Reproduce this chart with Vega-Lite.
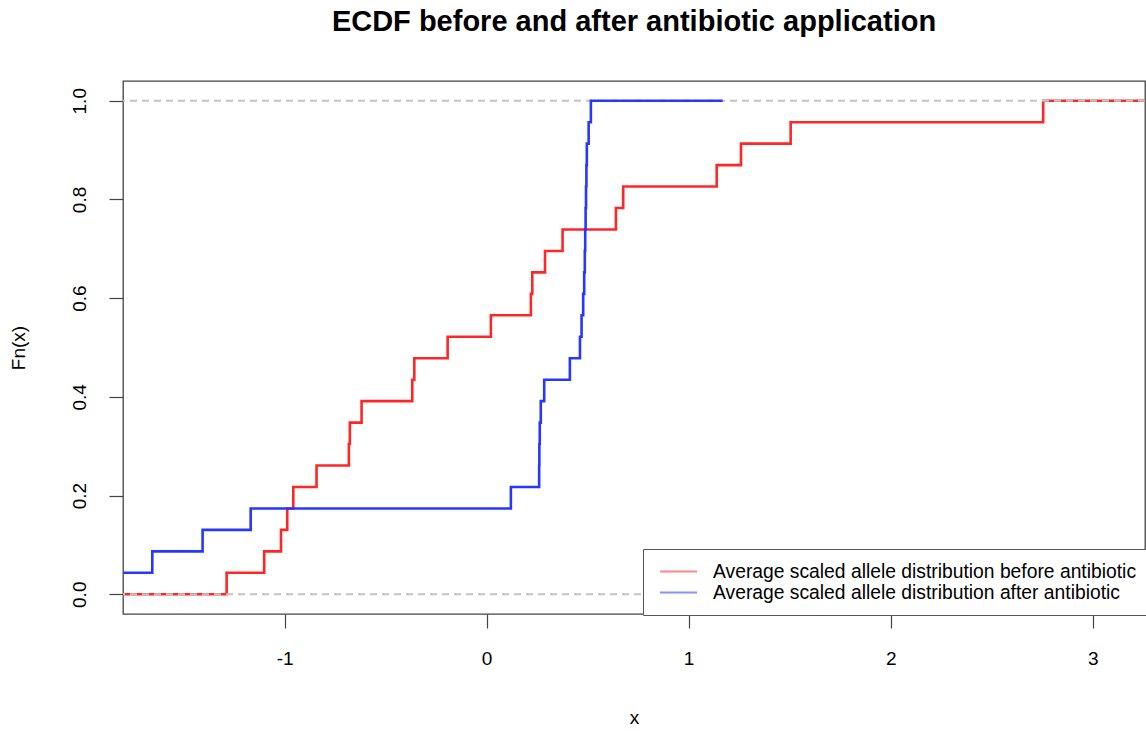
{
  "$schema": "https://vega.github.io/schema/vega-lite/v6.json",
  "width": 1022,
  "height": 533,
  "autosize": {"type": "none"},
  "padding": {"left": 123, "top": 81, "right": 1, "bottom": 117},
  "background": "white",
  "title": {
    "text": "ECDF before and after antibiotic application",
    "fontSize": 29,
    "fontWeight": "bold",
    "font": "Liberation Sans",
    "color": "black",
    "anchor": "middle",
    "offset": 44
  },
  "datasets": {
    "ecdf": [
      {"series": "Average scaled allele distribution before antibiotic", "x": -1.934, "Fn": 0},
      {"series": "Average scaled allele distribution before antibiotic", "x": -1.287, "Fn": 0.04348},
      {"series": "Average scaled allele distribution before antibiotic", "x": -1.101, "Fn": 0.08696},
      {"series": "Average scaled allele distribution before antibiotic", "x": -1.018, "Fn": 0.13043},
      {"series": "Average scaled allele distribution before antibiotic", "x": -0.987, "Fn": 0.17391},
      {"series": "Average scaled allele distribution before antibiotic", "x": -0.957, "Fn": 0.21739},
      {"series": "Average scaled allele distribution before antibiotic", "x": -0.842, "Fn": 0.26087},
      {"series": "Average scaled allele distribution before antibiotic", "x": -0.682, "Fn": 0.30435},
      {"series": "Average scaled allele distribution before antibiotic", "x": -0.677, "Fn": 0.34783},
      {"series": "Average scaled allele distribution before antibiotic", "x": -0.619, "Fn": 0.3913},
      {"series": "Average scaled allele distribution before antibiotic", "x": -0.368, "Fn": 0.43478},
      {"series": "Average scaled allele distribution before antibiotic", "x": -0.358, "Fn": 0.47826},
      {"series": "Average scaled allele distribution before antibiotic", "x": -0.193, "Fn": 0.52174},
      {"series": "Average scaled allele distribution before antibiotic", "x": 0.021, "Fn": 0.56522},
      {"series": "Average scaled allele distribution before antibiotic", "x": 0.219, "Fn": 0.6087},
      {"series": "Average scaled allele distribution before antibiotic", "x": 0.226, "Fn": 0.65217},
      {"series": "Average scaled allele distribution before antibiotic", "x": 0.289, "Fn": 0.69565},
      {"series": "Average scaled allele distribution before antibiotic", "x": 0.376, "Fn": 0.73913},
      {"series": "Average scaled allele distribution before antibiotic", "x": 0.64, "Fn": 0.78261},
      {"series": "Average scaled allele distribution before antibiotic", "x": 0.676, "Fn": 0.82609},
      {"series": "Average scaled allele distribution before antibiotic", "x": 1.139, "Fn": 0.86957},
      {"series": "Average scaled allele distribution before antibiotic", "x": 1.259, "Fn": 0.91304},
      {"series": "Average scaled allele distribution before antibiotic", "x": 1.505, "Fn": 0.95652},
      {"series": "Average scaled allele distribution before antibiotic", "x": 2.755, "Fn": 1},
      {"series": "Average scaled allele distribution before antibiotic", "x": 3.4, "Fn": 1},
      {"series": "Average scaled allele distribution after antibiotic", "x": -4.18, "Fn": 0},
      {"series": "Average scaled allele distribution after antibiotic", "x": -3.53, "Fn": 0.04348},
      {"series": "Average scaled allele distribution after antibiotic", "x": -1.655, "Fn": 0.08696},
      {"series": "Average scaled allele distribution after antibiotic", "x": -1.406, "Fn": 0.13043},
      {"series": "Average scaled allele distribution after antibiotic", "x": -1.168, "Fn": 0.17391},
      {"series": "Average scaled allele distribution after antibiotic", "x": 0.12, "Fn": 0.21739},
      {"series": "Average scaled allele distribution after antibiotic", "x": 0.26, "Fn": 0.26087},
      {"series": "Average scaled allele distribution after antibiotic", "x": 0.261, "Fn": 0.30435},
      {"series": "Average scaled allele distribution after antibiotic", "x": 0.263, "Fn": 0.34783},
      {"series": "Average scaled allele distribution after antibiotic", "x": 0.268, "Fn": 0.3913},
      {"series": "Average scaled allele distribution after antibiotic", "x": 0.285, "Fn": 0.43478},
      {"series": "Average scaled allele distribution after antibiotic", "x": 0.412, "Fn": 0.47826},
      {"series": "Average scaled allele distribution after antibiotic", "x": 0.462, "Fn": 0.52174},
      {"series": "Average scaled allele distribution after antibiotic", "x": 0.47, "Fn": 0.56522},
      {"series": "Average scaled allele distribution after antibiotic", "x": 0.478, "Fn": 0.6087},
      {"series": "Average scaled allele distribution after antibiotic", "x": 0.483, "Fn": 0.65217},
      {"series": "Average scaled allele distribution after antibiotic", "x": 0.486, "Fn": 0.69565},
      {"series": "Average scaled allele distribution after antibiotic", "x": 0.488, "Fn": 0.73913},
      {"series": "Average scaled allele distribution after antibiotic", "x": 0.49, "Fn": 0.78261},
      {"series": "Average scaled allele distribution after antibiotic", "x": 0.492, "Fn": 0.82609},
      {"series": "Average scaled allele distribution after antibiotic", "x": 0.494, "Fn": 0.86957},
      {"series": "Average scaled allele distribution after antibiotic", "x": 0.496, "Fn": 0.91304},
      {"series": "Average scaled allele distribution after antibiotic", "x": 0.505, "Fn": 0.95652},
      {"series": "Average scaled allele distribution after antibiotic", "x": 0.516, "Fn": 1},
      {"series": "Average scaled allele distribution after antibiotic", "x": 1.168, "Fn": 1}
    ],
    "hlines": [{"Fn": 0}, {"Fn": 1}]
  },
  "layer": [
    {
      "data": {"name": "ecdf"},
      "transform": [{"filter": "datum.series === 'Average scaled allele distribution before antibiotic'"}],
      "mark": {"type": "line", "interpolate": "step-after", "clip": true, "strokeWidth": 2.6},
      "encoding": {
        "x": {
          "field": "x", "type": "quantitative",
          "scale": {"domain": [-1.8, 3.259], "nice": false, "zero": false},
          "axis": {"title": "x", "values": [-1, 0, 1, 2, 3], "labelExpr": "datum.value < 0 ? '-' + abs(datum.value) : '' + datum.value", "titlePadding": 40}
        },
        "y": {
          "field": "Fn", "type": "quantitative",
          "scale": {"domain": [-0.04, 1.04], "nice": false, "zero": false},
          "axis": {"title": "Fn(x)", "values": [0, 0.2, 0.4, 0.6, 0.8, 1], "format": ".1f", "labelAngle": -90, "labelAlign": "center", "labelBaseline": "alphabetic", "labelPadding": 24, "titlePadding": 42}
        },
        "color": {
          "field": "series", "type": "nominal",
          "scale": {
            "domain": ["Average scaled allele distribution before antibiotic", "Average scaled allele distribution after antibiotic"],
            "range": ["#ff2626", "#2638ff"]
          },
          "legend": {
            "title": null,
            "orient": "none",
            "legendX": 520,
            "legendY": 468,
            "symbolType": "M-2,0H2",
            "symbolSize": 342,
            "symbolStrokeWidth": 2,
            "symbolOpacity": 0.55,
            "symbolOffset": 13,
            "labelFontSize": 19.3,
            "labelFont": "Liberation Sans",
            "labelColor": "black",
            "labelLimit": 700,
            "labelOffset": 24,
            "rowPadding": 0,
            "padding": 12,
            "strokeColor": "#555",
            "fillColor": "white",
            "cornerRadius": 0
          }
        }
      }
    },
    {
      "data": {"name": "hlines"},
      "mark": {"type": "rule", "strokeDash": [7, 5], "color": "#c4c4c4", "strokeWidth": 1.8},
      "encoding": {"y": {"field": "Fn", "type": "quantitative"}}
    },
    {
      "data": {"name": "ecdf"},
      "transform": [{"filter": "datum.series === 'Average scaled allele distribution after antibiotic'"}],
      "mark": {"type": "line", "interpolate": "step-after", "clip": true, "strokeWidth": 2.6},
      "encoding": {
        "x": {"field": "x", "type": "quantitative"},
        "y": {"field": "Fn", "type": "quantitative"},
        "color": {"field": "series", "type": "nominal"}
      }
    }
  ],
  "config": {
    "font": "Liberation Sans",
    "view": {"stroke": "#444", "strokeWidth": 1.3},
    "axis": {
      "grid": false,
      "domain": false,
      "tickColor": "#444",
      "tickSize": 14,
      "tickWidth": 1.2,
      "labelPadding": 21,
      "labelFontSize": 19,
      "labelColor": "black",
      "labelFont": "Liberation Sans",
      "titleFont": "Liberation Sans",
      "titleFontSize": 19,
      "titleFontWeight": "normal",
      "titleColor": "black",
      "labelFlush": false,
      "labelOverlap": false
    },
    "legend": {"symbolStrokeWidth": 2}
  }
}
